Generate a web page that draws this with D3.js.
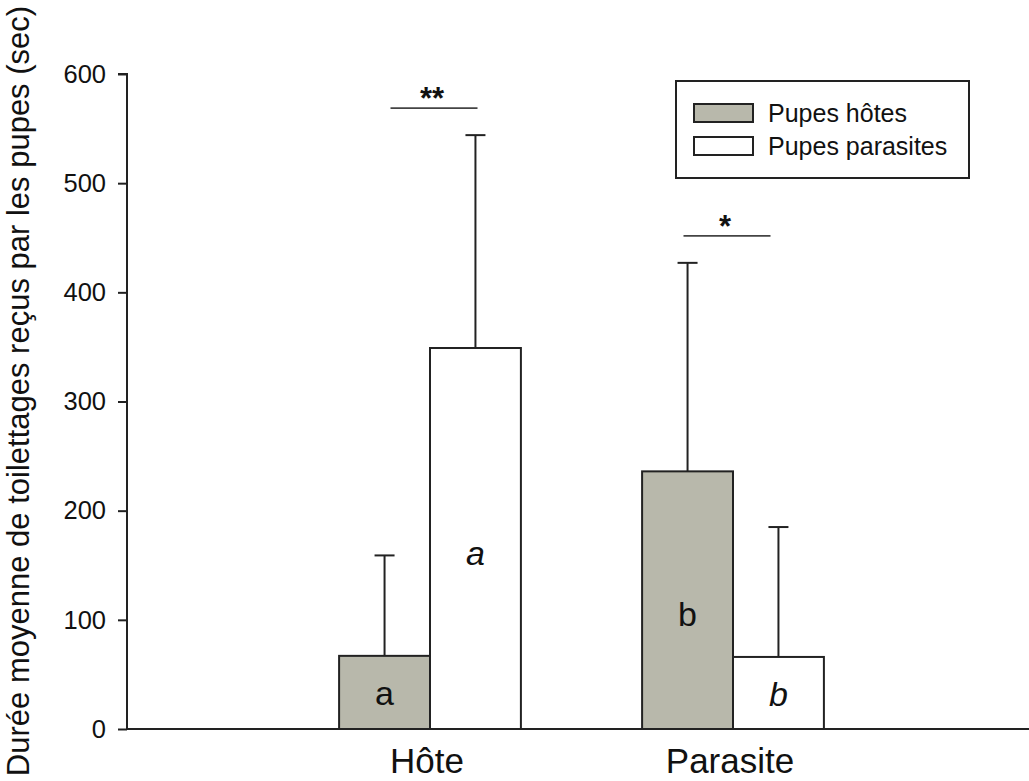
<!DOCTYPE html>
<html>
<head>
<meta charset="utf-8">
<script src="https://cdn.jsdelivr.net/npm/d3@7"></script>
<style>
  html, body { margin: 0; padding: 0; background: #fff; }
  svg { display: block; font-family: "Liberation Sans", Arial, sans-serif; }
</style>
</head>
<body>
<svg id="chart" width="1029" height="781"></svg>
<script>
// ---- data ----
const categories = ["Hôte", "Parasite"];
const seriesNames = ["Pupes hôtes", "Pupes parasites"];
const hostMeans = [67, 236];
const parasiteMeans = [349, 66];
const hostSD = [92, 191];
const parasiteSD = [195, 119];
const hostLetters = ["a", "b"];
const parasiteLetters = ["a", "b"];
const yTicks = [0, 100, 200, 300, 400, 500, 600];
const significance = ["**", "*"];
const sigShift = [4, -6];

const svg = d3.select("#chart");
const colors = { "Pupes hôtes": "#b8b8ab", "Pupes parasites": "#ffffff" };
const stroke = "#222";

const y = d3.scaleLinear().domain([0, 600]).range([729, 74]);
const x0 = d3.scaleBand().domain(categories).range([127, 1036])
  .paddingInner(0.4).paddingOuter(0.7);
const x1 = d3.scaleBand().domain(seriesNames).range([0, x0.bandwidth()]).padding(0);

const rows = [];
categories.forEach((c, i) => {
  rows.push({ cat: c, s: seriesNames[0], v: hostMeans[i], sd: hostSD[i], letter: hostLetters[i], italic: false });
  rows.push({ cat: c, s: seriesNames[1], v: parasiteMeans[i], sd: parasiteSD[i], letter: parasiteLetters[i], italic: true });
});

// error bars (drawn first so bar outline is on top)
const eb = svg.append("g");
rows.forEach(d => {
  const cx = x0(d.cat) + x1(d.s) + x1.bandwidth() / 2;
  eb.append("line").attr("x1", cx).attr("x2", cx)
    .attr("y1", y(d.v)).attr("y2", y(d.v + d.sd))
    .attr("stroke", stroke).attr("stroke-width", 2);
  eb.append("line").attr("x1", cx - 10).attr("x2", cx + 10)
    .attr("y1", y(d.v + d.sd)).attr("y2", y(d.v + d.sd))
    .attr("stroke", stroke).attr("stroke-width", 2);
});

// bars
svg.append("g").selectAll("rect").data(rows).join("rect")
  .attr("x", d => x0(d.cat) + x1(d.s))
  .attr("y", d => y(d.v))
  .attr("width", x1.bandwidth())
  .attr("height", d => y(0) - y(d.v))
  .attr("fill", d => colors[d.s])
  .attr("stroke", stroke).attr("stroke-width", 2);

// bar letters
svg.append("g").selectAll("text").data(rows).join("text")
  .attr("x", d => x0(d.cat) + x1(d.s) + x1.bandwidth() / 2)
  .attr("y", d => d.v > 150 ? y(d.v / 2) + 26 : y(d.v / 2) + 13)
  .attr("text-anchor", "middle")
  .attr("font-size", 34)
  .attr("font-style", d => d.italic ? "italic" : "normal")
  .attr("fill", "#111")
  .text(d => d.letter);

// y axis
const yAxis = d3.axisLeft(y).tickValues(yTicks).tickSize(9).tickPadding(12);
const gy = svg.append("g").attr("transform", "translate(127,0)").call(yAxis);
gy.select(".domain").attr("stroke", stroke).attr("stroke-width", 2).attr("d", "M-9,74H0V729");
gy.selectAll(".tick line").attr("stroke", stroke).attr("stroke-width", 2);
gy.selectAll(".tick text").attr("font-size", 25.5).attr("fill", "#111")
  .attr("font-family", "'Liberation Sans', Arial, sans-serif");

// x axis line
svg.append("line").attr("x1", 127).attr("x2", 1029).attr("y1", y(0)).attr("y2", y(0))
  .attr("stroke", stroke).attr("stroke-width", 2);

// category labels
svg.append("g").selectAll("text").data(categories).join("text")
  .attr("x", d => x0(d) + x0.bandwidth() / 2 - 3)
  .attr("y", 773)
  .attr("text-anchor", "middle")
  .attr("font-size", 35)
  .attr("fill", "#111")
  .text(d => d);

// y title
svg.append("text")
  .attr("transform", "translate(29,391) rotate(-90)")
  .attr("text-anchor", "middle")
  .attr("font-size", 31)
  .attr("fill", "#111")
  .text("Durée moyenne de toilettages reçus par les pupes (sec)");

// significance markers
const sig = svg.append("g");
categories.forEach((c, i) => {
  const cx = x0(c) + x0.bandwidth() / 2 + sigShift[i];
  const top = Math.max(hostMeans[i] + hostSD[i], parasiteMeans[i] + parasiteSD[i]);
  const ly = y(top) - 27;
  sig.append("line").attr("x1", cx - 43.5).attr("x2", cx + 43.5)
    .attr("y1", ly).attr("y2", ly).attr("stroke", "#444").attr("stroke-width", 1.8);
  sig.append("text").attr("x", cx - 2).attr("y", ly + 1)
    .attr("text-anchor", "middle").attr("font-size", 31).attr("font-weight", "bold")
    .attr("fill", "#111").text(significance[i]);
});

// legend
const lg = svg.append("g");
lg.append("rect").attr("x", 676).attr("y", 81).attr("width", 293).attr("height", 97)
  .attr("fill", "#fff").attr("stroke", stroke).attr("stroke-width", 2);
seriesNames.forEach((s, i) => {
  const ly = 104 + i * 33;
  lg.append("rect").attr("x", 694).attr("y", ly).attr("width", 59).attr("height", 18)
    .attr("fill", colors[s]).attr("stroke", stroke).attr("stroke-width", 2);
  lg.append("text").attr("x", 768).attr("y", ly + 18).attr("font-size", 25)
    .attr("fill", "#111").text(s);
});
</script>
</body>
</html>
